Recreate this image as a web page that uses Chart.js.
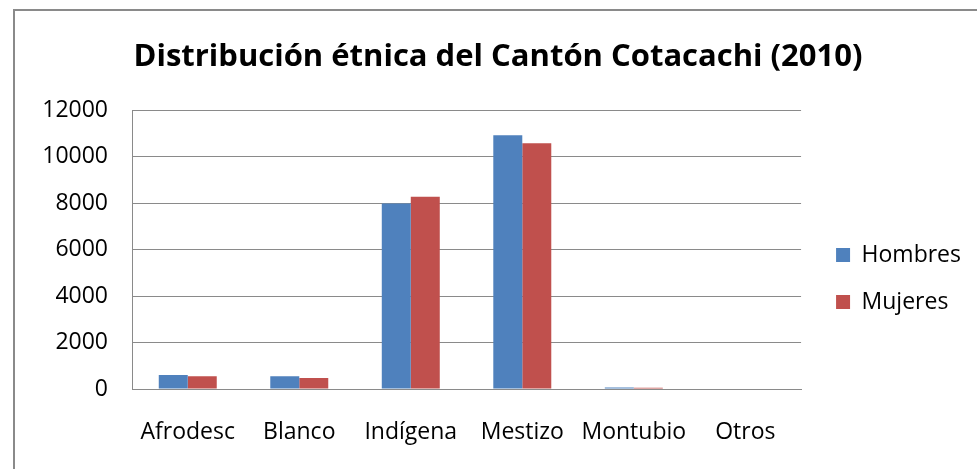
<!DOCTYPE html>
<html>
<head>
<meta charset="utf-8">
<script src="https://cdn.jsdelivr.net/npm/chart.js@4"></script>
<style>
html,body{margin:0;padding:0;background:#fff;overflow:hidden;}
#wrap{position:relative;width:977px;height:469px;}
#frame{position:absolute;left:13px;top:9px;width:1100px;height:600px;border-left:2px solid #8a8a8a;border-top:2px solid #8a8a8a;box-sizing:border-box;}
canvas{position:absolute;left:0;top:0;}
</style>
</head>
<body>
<div id="wrap">
<div id="frame"></div>
<canvas id="c" width="977" height="469"></canvas>
</div>
<script>
const categories = ["Afrodesc", "Blanco", "Indígena", "Mestizo", "Montubio", "Otros"];
const hombres = [600, 545, 7980, 10920, 65, 0];
const mujeres = [545, 475, 8280, 10580, 55, 0];
const yTicks = [0, 2000, 4000, 6000, 8000, 10000, 12000];
const seriesNames = ["Hombres", "Mujeres"];

const FONT = "'Open Sans', 'Liberation Sans', sans-serif";
const shiftBoxes = {
  id: 'shiftBoxes',
  afterLayout(chart) {
    const lg = chart.legend;
    if (lg) { lg.left += 11; lg.right += 11; lg.top += 44; lg.bottom += 44; }
    const tb = chart.titleBlock;
    if (tb) { tb.left += 18; tb.right += 18; }
  }
};
new Chart(document.getElementById('c'), {
  type: 'bar',
  data: {
    labels: categories,
    datasets: [
      {label: seriesNames[0], data: hombres, backgroundColor: '#4F81BD', categoryPercentage: 0.52, barPercentage: 1.0},
      {label: seriesNames[1], data: mujeres, backgroundColor: '#C0504D', categoryPercentage: 0.52, barPercentage: 1.0}
    ]
  },
  plugins: [shiftBoxes],
  options: {
    responsive: false,
    animation: false,
    devicePixelRatio: 1,
    layout: {padding: {left: 0, right: 17, top: 0, bottom: 0}},
    plugins: {
      title: {
        display: true,
        text: 'Distribución étnica del Cantón Cotacachi (2010)',
        color: '#000',
        font: {family: FONT, size: 31, weight: 'bold'},
        padding: {top: 39, bottom: 34}
      },
      legend: {
        position: 'right',
        labels: {
          color: '#000',
          font: {family: FONT, size: 23},
          boxWidth: 14, boxHeight: 14,
          padding: 24
        }
      },
      tooltip: {enabled: false}
    },
    scales: {
      x: {
        afterFit: (s) => { s.height = 80; },
        grid: {display: false, drawTicks: false},
        border: {display: true, color: '#8a8a8a', width: 1},
        ticks: {color: '#000', font: {family: FONT, size: 23}, padding: 30, maxRotation: 0, autoSkip: false}
      },
      y: {
        min: 0, max: 12000,
        afterBuildTicks: (s) => { s.ticks = yTicks.map(v => ({value: v})); },
        afterFit: (s) => { s.width = 132; },
        grid: {color: '#8a8a8a', lineWidth: 1, drawTicks: false},
        border: {display: true, color: '#8a8a8a', width: 1},
        ticks: {color: '#000', font: {family: FONT, size: 23}, padding: 24, callback: (v) => String(v)}
      }
    }
  }
});
</script>
</body>
</html>
